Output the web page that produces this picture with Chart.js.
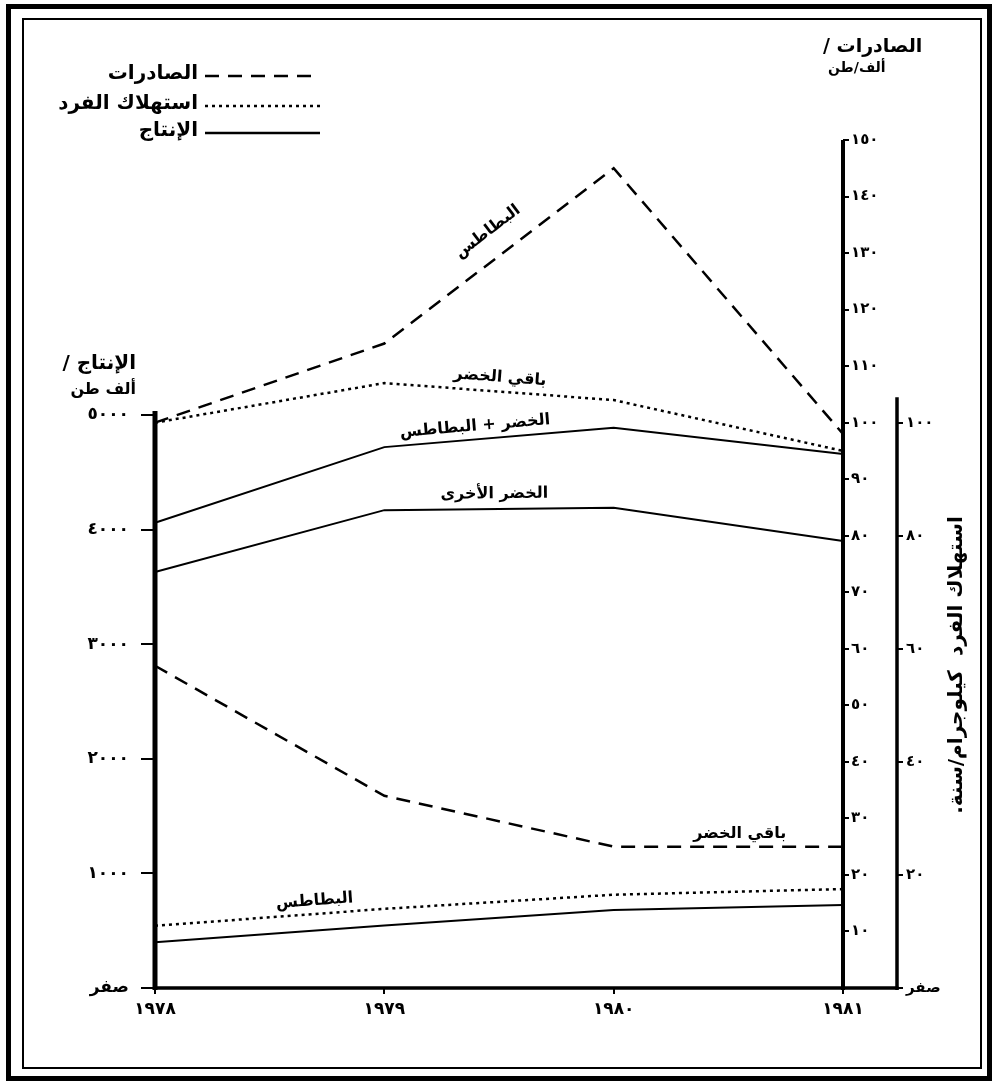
<!DOCTYPE html>
<html lang="ar">
<head>
<meta charset="utf-8">
<title>الإنتاج والصادرات واستهلاك الفرد</title>
<script src="https://cdn.jsdelivr.net/npm/chart.js@4.4.0/dist/chart.umd.min.js"></script>
<style>
  html, body { margin: 0; padding: 0; background: #fff; }
  canvas { display: block; }
</style>
</head>
<body>
<canvas id="chart" width="995" height="1091"></canvas>
<script>
'use strict';

var years = ['١٩٧٨', '١٩٧٩', '١٩٨٠', '١٩٨١'];

// production, thousand tons (left axis)
var prodTotal = [4060, 4720, 4890, 4660];
var prodOther = [3630, 4170, 4190, 3900];
var prodPotato = [400, 545, 680, 725];

// exports, thousand tons
var expPotato = [100, 114, 145, 98];
var expOther = [57, 34, 25, 25];

// consumption per person, kg / year
var consOther = [100, 107, 104, 95];
var consPotato = [11, 14, 16.5, 17.5];

var prodTicks = [0, 1000, 2000, 3000, 4000, 5000];
var prodTickLabels = ['صفر', '١٠٠٠', '٢٠٠٠', '٣٠٠٠', '٤٠٠٠', '٥٠٠٠'];
var expTicks = [10, 20, 30, 40, 50, 60, 70, 80, 90, 100, 110, 120, 130, 140, 150];
var expTickLabels = ['١٠', '٢٠', '٣٠', '٤٠', '٥٠', '٦٠', '٧٠', '٨٠', '٩٠', '١٠٠', '١١٠', '١٢٠', '١٣٠', '١٤٠', '١٥٠'];
var consTicks = [0, 20, 40, 60, 80, 100];
var consTickLabels = ['صفر', '٢٠', '٤٠', '٦٠', '٨٠', '١٠٠'];

var legendItems = ['الصادرات', 'استهلاك الفرد', 'الإنتاج'];

var FONT = 'DejaVu Sans';

function setTicks(values) {
  return function (scale) {
    scale.ticks = values.map(function (v) { return { value: v }; });
  };
}

function fixWidth(w) {
  return function (scale) { scale.width = w; };
}

// text placed along a segment of a drawn series
function seriesLabel(ctx, chart, dsIndex, seg, frac, offset, text) {
  var pts = chart.getDatasetMeta(dsIndex).data;
  var a = pts[seg], b = pts[seg + 1];
  var px = a.x + (b.x - a.x) * frac;
  var py = a.y + (b.y - a.y) * frac;
  var ang = Math.atan2(b.y - a.y, b.x - a.x);
  ctx.save();
  ctx.translate(px, py);
  ctx.rotate(ang);
  ctx.fillText(text, 0, -offset);
  ctx.restore();
}

function line(ctx, x1, y1, x2, y2, w, dash) {
  ctx.save();
  ctx.lineWidth = w;
  ctx.setLineDash(dash || []);
  ctx.beginPath();
  ctx.moveTo(x1, y1);
  ctx.lineTo(x2, y2);
  ctx.stroke();
  ctx.restore();
}

var DASH = [14, 9];
var DOT = [3, 4];

var decorations = {
  id: 'decorations',
  beforeDraw: function (chart) {
    var ctx = chart.ctx;
    ctx.save();
    ctx.fillStyle = '#fff';
    ctx.fillRect(0, 0, chart.width, chart.height);
    ctx.restore();
  },
  afterDraw: function (chart) {
    var ctx = chart.ctx;
    var x = chart.scales.x;
    var yl = chart.scales.y;
    var ye = chart.scales.yExp;
    var yc = chart.scales.yCons;
    var base = yl.getPixelForValue(0);

    ctx.save();
    ctx.strokeStyle = '#000';
    ctx.fillStyle = '#000';

    // double frame
    ctx.lineWidth = 5;
    ctx.strokeRect(8.5, 6.5, 981, 1072);
    ctx.lineWidth = 2;
    ctx.strokeRect(23, 19, 958, 1049);

    // axis lines
    line(ctx, yl.right, base + 2, yl.right, yl.getPixelForValue(5000) - 4, 5);
    line(ctx, ye.left, base + 2, ye.left, ye.getPixelForValue(150), 4);
    line(ctx, yc.left, base + 2, yc.left, yc.getPixelForValue(104.5), 3.5);
    line(ctx, x.left - 2, base, yc.left + 1.5, base, 3.5);

    // legend
    ctx.direction = 'rtl';
    ctx.font = 'bold 20px "' + FONT + '"';
    ctx.textAlign = 'right';
    ctx.textBaseline = 'middle';
    var rows = [74, 104, 131];
    var dashes = [DASH, DOT, []];
    for (var i = 0; i < legendItems.length; i++) {
      line(ctx, 205, rows[i] + 2, 320, rows[i] + 2, 2.5, dashes[i]);
      ctx.fillText(legendItems[i], 198, rows[i]);
    }

    // axis titles
    ctx.font = 'bold 20px "' + FONT + '"';
    ctx.fillText('الإنتاج /', 136, 364);
    ctx.font = 'bold 16px "' + FONT + '"';
    ctx.fillText('ألف طن', 136, 390);

    ctx.textAlign = 'left';
    ctx.font = 'bold 19px "' + FONT + '"';
    ctx.fillText('الصادرات /', 823, 47);
    ctx.font = 'bold 14px "' + FONT + '"';
    ctx.fillText('ألف/طن', 828, 68);

    ctx.save();
    ctx.translate(957, 665);
    ctx.rotate(-Math.PI / 2);
    ctx.textAlign = 'center';
    ctx.font = 'bold 20px "' + FONT + '"';
    ctx.fillText('استهلاك الفرد  كيلوجرام/سنة.', 0, 0);
    ctx.restore();

    // series labels
    ctx.textAlign = 'center';
    ctx.textBaseline = 'middle';
    ctx.font = 'bold 16px "' + FONT + '"';
    seriesLabel(ctx, chart, 0, 1, 0.52, 26, 'البطاطس');
    seriesLabel(ctx, chart, 2, 1, 0.5, 14, 'باقي الخضر');
    seriesLabel(ctx, chart, 4, 1, 0.4, 13, 'الخضر + البطاطس');
    seriesLabel(ctx, chart, 5, 1, 0.48, 15, 'الخضر الأخرى');
    seriesLabel(ctx, chart, 1, 2, 0.55, 13, 'باقي الخضر');
    seriesLabel(ctx, chart, 3, 0, 0.7, 13, 'البطاطس');

    ctx.restore();
  }
};

function series(label, data, axis, dash, width) {
  return {
    label: label,
    data: data,
    yAxisID: axis,
    borderColor: '#000',
    borderWidth: width,
    borderDash: dash,
    borderCapStyle: 'butt',
    pointRadius: 0,
    tension: 0,
    fill: false
  };
}

var ctx = document.getElementById('chart').getContext('2d');

var chart = new Chart(ctx, {
  type: 'line',
  data: {
    labels: years,
    datasets: [
      series('صادرات البطاطس', expPotato, 'yExp', DASH, 2.5),
      series('صادرات باقي الخضر', expOther, 'yExp', DASH, 2.5),
      series('استهلاك الفرد - باقي الخضر', consOther, 'yCons', DOT, 2.5),
      series('استهلاك الفرد - البطاطس', consPotato, 'yCons', DOT, 2.5),
      series('إنتاج الخضر + البطاطس', prodTotal, 'y', [], 2),
      series('إنتاج الخضر الأخرى', prodOther, 'y', [], 2),
      series('إنتاج البطاطس', prodPotato, 'y', [], 2)
    ]
  },
  options: {
    responsive: false,
    animation: false,
    devicePixelRatio: 1,
    layout: { padding: { left: 0, top: 140, right: 28, bottom: 63 } },
    plugins: {
      legend: { display: false },
      title: { display: false },
      tooltip: { enabled: false }
    },
    scales: {
      x: {
        type: 'category',
        offset: false,
        afterFit: function (scale) { scale.height = 40; },
        border: { display: false },
        grid: { drawOnChartArea: false, drawTicks: true, tickLength: 6, color: '#000', lineWidth: 2 },
        ticks: { color: '#000', font: { family: FONT, size: 17, weight: 'bold' }, padding: 5, maxRotation: 0 }
      },
      y: {
        position: 'left',
        min: 0,
        max: 7400,
        afterBuildTicks: setTicks(prodTicks),
        afterFit: fixWidth(155),
        border: { display: false },
        grid: { drawOnChartArea: false, drawTicks: true, tickLength: 14, color: '#000', lineWidth: 2 },
        ticks: {
          color: '#000',
          padding: 12,
          font: { family: FONT, size: 17, weight: 'bold' },
          callback: function (v, i) { return prodTickLabels[i]; }
        }
      },
      yExp: {
        position: 'right',
        weight: 0,
        min: 0,
        max: 150,
        afterBuildTicks: setTicks(expTicks),
        afterFit: fixWidth(54),
        border: { display: false },
        grid: { drawOnChartArea: false, drawTicks: true, tickLength: 6, color: '#000', lineWidth: 2 },
        ticks: {
          color: '#000',
          padding: 2,
          font: { family: FONT, size: 15, weight: 'bold' },
          callback: function (v, i) { return expTickLabels[i]; }
        }
      },
      yCons: {
        position: 'right',
        weight: 1,
        min: 0,
        max: 150,
        afterBuildTicks: setTicks(consTicks),
        afterFit: fixWidth(70),
        border: { display: false },
        grid: { drawOnChartArea: false, drawTicks: true, tickLength: 6, color: '#000', lineWidth: 2 },
        ticks: {
          color: '#000',
          padding: 3,
          font: { family: FONT, size: 15, weight: 'bold' },
          callback: function (v, i) { return consTickLabels[i]; }
        }
      }
    }
  },
  plugins: [decorations]
});
</script>
</body>
</html>
